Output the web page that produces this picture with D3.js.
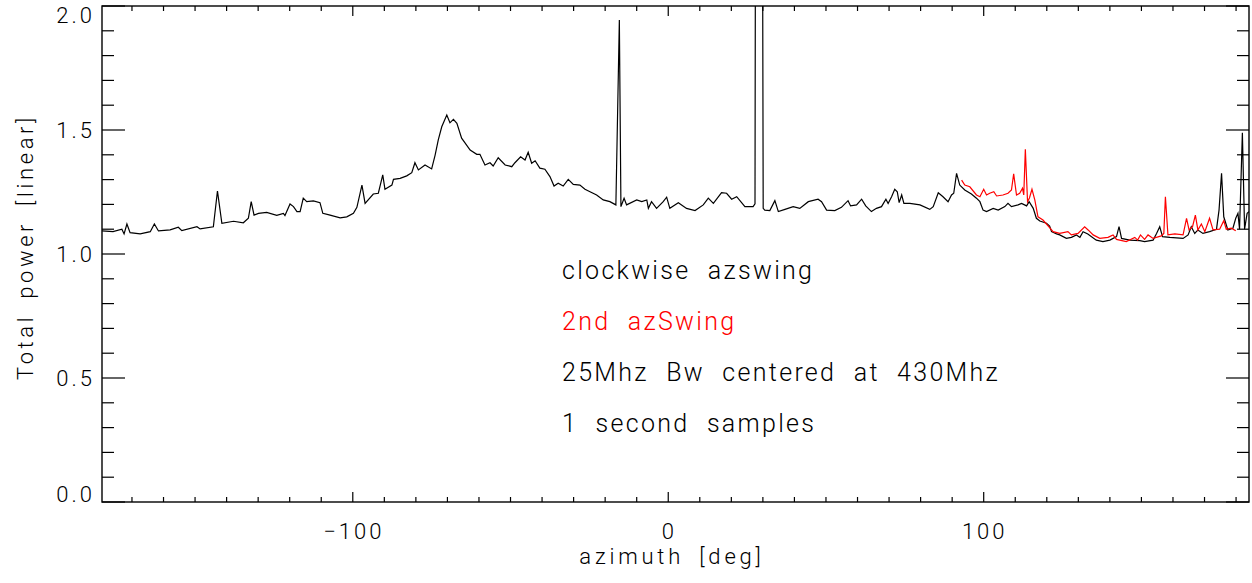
<!DOCTYPE html>
<html>
<head>
<meta charset="utf-8">
<script src="https://cdn.jsdelivr.net/npm/d3@7"></script>
<style>
  body { margin: 0; background: #fff; }
  svg text { font-family: "Roboto", "DejaVu Sans", sans-serif; font-weight: 300; fill: #000; }
</style>
</head>
<body>
<div id="chart"></div>
<script>
// azimuth [deg] and total power [linear] for the clockwise swing
const cwAz = [-179.5,-176.0,-173.2,-172.5,-171.6,-170.6,-167.4,-164.2,-162.9,-161.6,-157.9,-155.3,-154.2,-149.4,-148.4,-144.2,-142.9,-141.5,-137.8,-134.7,
  -133.1,-132.2,-131.3,-129.9,-127.3,-124.1,-122.0,-121.5,-119.9,-118.8,-117.7,-116.7,-115.7,-114.6,-112.5,-110.4,-109.5,-107.2,-104.0,-101.9,
  -99.8,-98.7,-97.1,-96.1,-93.5,-91.9,-90.5,-89.8,-87.6,-87.1,-85.0,-82.9,-81.3,-80.3,-79.2,-77.1,-75.0,-73.9,-72.9,-71.8,
  -70.2,-69.2,-68.1,-67.0,-65.5,-62.8,-60.7,-59.7,-58.1,-56.5,-55.5,-53.9,-51.7,-49.6,-48.6,-46.8,-45.4,-44.4,-43.3,-42.2,
  -40.7,-39.1,-37.5,-36.2,-34.9,-33.3,-31.7,-30.1,-28.0,-26.4,-24.8,-22.7,-20.6,-18.5,-16.6,-15.5,-15.0,-14.0,-13.2,-10.0,
  -8.4,-6.8,-6.3,-5.3,-3.7,-1.6,-0.5,0.5,3.2,5.8,8.5,11.1,12.7,14.3,16.9,18.5,20.1,21.7,24.3,26.9,
  27.5,27.7,29.8,30.1,30.6,32.2,33.8,34.9,37.0,39.6,41.7,44.4,47.5,48.6,50.2,52.8,54.9,57.0,57.8,59.7,
  61.3,62.6,64.4,66.0,67.6,69.0,69.7,70.8,71.8,72.6,73.2,74.0,74.7,76.6,79.8,82.9,84.0,85.6,87.1,88.7,
  89.8,90.5,91.4,92.4,94.0,96.1,97.7,98.8,99.8,100.9,103.0,104.6,106.7,107.7,108.8,110.9,112.0,113.6,114.4,115.7,
  116.7,117.8,119.9,120.9,121.5,123.1,124.1,126.2,127.8,129.4,130.5,131.5,133.0,135.7,137.8,140.0,142.1,142.9,143.7,146.3,
  149.5,151.0,153.7,154.8,155.8,156.7,159.0,163.2,164.8,165.8,166.9,167.9,169.5,171.6,173.8,174.6,175.4,176.1,177.4,179.0,
  179.9,180.6,181.1,182.0,182.7,183.5,184.1];
const cwPower = [1.093,1.090,1.100,1.081,1.121,1.086,1.081,1.090,1.121,1.093,1.097,1.108,1.094,1.110,1.101,1.110,1.254,1.124,1.132,1.126,
  1.144,1.211,1.157,1.164,1.168,1.156,1.164,1.155,1.202,1.191,1.171,1.171,1.225,1.211,1.214,1.207,1.164,1.157,1.146,1.150,
  1.164,1.188,1.278,1.204,1.242,1.245,1.319,1.261,1.278,1.301,1.305,1.315,1.328,1.368,1.339,1.359,1.343,1.399,1.460,1.513,
  1.560,1.529,1.543,1.527,1.467,1.419,1.402,1.402,1.359,1.368,1.355,1.388,1.359,1.352,1.368,1.392,1.379,1.410,1.366,1.376,
  1.346,1.342,1.312,1.274,1.285,1.274,1.301,1.281,1.278,1.261,1.251,1.238,1.218,1.211,1.198,1.944,1.191,1.225,1.198,1.218,
  1.211,1.218,1.184,1.211,1.184,1.211,1.229,1.184,1.207,1.184,1.175,1.198,1.225,1.204,1.247,1.245,1.221,1.231,1.191,1.191,
  1.202,2.800,2.800,1.184,1.177,1.175,1.215,1.171,1.180,1.191,1.184,1.211,1.221,1.211,1.177,1.175,1.188,1.215,1.194,1.198,
  1.221,1.194,1.171,1.184,1.191,1.221,1.204,1.231,1.261,1.251,1.207,1.238,1.204,1.204,1.198,1.180,1.191,1.247,1.231,1.211,
  1.238,1.245,1.325,1.278,1.258,1.242,1.225,1.211,1.177,1.171,1.184,1.177,1.191,1.204,1.191,1.198,1.204,1.194,1.211,1.184,
  1.144,1.133,1.124,1.113,1.090,1.081,1.077,1.063,1.067,1.077,1.067,1.090,1.081,1.056,1.050,1.056,1.070,1.110,1.063,1.056,
  1.054,1.050,1.056,1.083,1.110,1.070,1.067,1.063,1.077,1.110,1.083,1.097,1.083,1.090,1.100,1.177,1.325,1.150,1.097,1.104,
  1.144,1.164,1.100,1.489,1.100,1.164,1.171];

// second swing
const az2 = [93.0,94.0,95.6,97.7,98.8,100.0,100.9,101.9,103.2,104.1,106.1,107.7,108.8,109.5,110.4,111.4,112.3,112.7,113.2,113.9,
  114.5,115.3,116.2,117.2,118.8,120.4,122.0,124.1,126.7,127.8,129.9,132.0,133.1,134.7,136.8,139.4,141.0,142.1,145.2,147.9,
  148.8,149.7,151.0,152.1,153.7,156.3,157.1,157.6,158.4,160.6,163.2,164.3,165.1,166.2,167.1,167.9,169.0,170.1,171.6,172.7,
  174.8,176.1,176.9,178.5,179.9];
const power2 = [1.298,1.278,1.271,1.238,1.231,1.261,1.238,1.245,1.251,1.234,1.238,1.245,1.258,1.323,1.238,1.245,1.265,1.238,1.422,1.211,
  1.226,1.261,1.218,1.150,1.137,1.113,1.090,1.083,1.090,1.077,1.083,1.110,1.097,1.077,1.063,1.067,1.077,1.059,1.050,1.067,
  1.056,1.077,1.059,1.077,1.063,1.073,1.083,1.231,1.077,1.081,1.077,1.144,1.097,1.110,1.157,1.097,1.121,1.090,1.144,1.097,
  1.100,1.134,1.100,1.104,1.094];

const xMajor = [-100, 0, 100];
const yMajor = [0.0, 0.5, 1.0, 1.5, 2.0];
const notes = [
  {text: "clockwise azswing", color: "#000"},
  {text: "2nd azSwing", color: "#ff0000"},
  {text: "25Mhz Bw centered at 430Mhz", color: "#000"},
  {text: "1 second samples", color: "#000"}
];

const W = 1252, H = 583;
const margin = {top: 6, right: 3, bottom: 81, left: 102};
const pw = W - margin.left - margin.right;
const ph = H - margin.top - margin.bottom;

const svg = d3.select("#chart").append("svg")
  .attr("width", W).attr("height", H);

const x = d3.scaleLinear().domain([-179.5, 184.1]).range([margin.left, margin.left + pw]);
const y = d3.scaleLinear().domain([0, 2]).range([margin.top + ph, margin.top]);

svg.append("clipPath").attr("id", "clip")
  .append("rect")
  .attr("x", margin.left).attr("y", margin.top)
  .attr("width", pw).attr("height", ph);

let line = d3.line().x(d => x(d[0])).y(d => y(d[1]));

let plot = svg.append("g").attr("clip-path", "url(#clip)");
plot.append("path")
  .datum(cwAz.map((a, i) => [a, cwPower[i]]))
  .attr("d", line).attr("fill", "none")
  .attr("stroke", "#000").attr("stroke-width", 1.2);
plot.append("path")
  .datum(az2.map((a, i) => [a, power2[i]]))
  .attr("d", line).attr("fill", "none")
  .attr("stroke", "#ff0000").attr("stroke-width", 1.2);

// frame and ticks, IDL style: ticks on all four sides, pointing in
svg.append("rect")
  .attr("x", margin.left).attr("y", margin.top)
  .attr("width", pw).attr("height", ph)
  .attr("fill", "none").attr("stroke", "#000").attr("stroke-width", 1.4);

let xTicks = d3.range(-170, 181, 10);
let xt = svg.append("g").attr("stroke", "#000").attr("stroke-width", 1.2);
xTicks.forEach(t => {
  let len = xMajor.includes(t) ? 10 : 5;
  xt.append("line").attr("x1", x(t)).attr("x2", x(t))
    .attr("y1", y(0)).attr("y2", y(0) - len);
  xt.append("line").attr("x1", x(t)).attr("x2", x(t))
    .attr("y1", y(2)).attr("y2", y(2) + len);
});

let yTicks = d3.range(0, 21).map(d => d / 10);
let yt = svg.append("g").attr("stroke", "#000").attr("stroke-width", 1.2);
yTicks.forEach(t => {
  let len = (Math.round(t * 10) % 5 === 0) ? 23 : 12;
  yt.append("line").attr("y1", y(t)).attr("y2", y(t))
    .attr("x1", x.range()[0]).attr("x2", x.range()[0] + len);
  yt.append("line").attr("y1", y(t)).attr("y2", y(t))
    .attr("x1", x.range()[1]).attr("x2", x.range()[1] - len);
});

// tick labels
svg.append("g").selectAll("text").data(xMajor).join("text")
  .attr("x", d => x(d) + 1).attr("y", 539)
  .attr("text-anchor", "middle")
  .attr("font-size", 22).attr("letter-spacing", 3)
  .text(d => d < 0 ? "\u2212" + Math.abs(d) : d);

svg.append("g").selectAll("text").data(yMajor).join("text")
  .attr("x", 95)
  .attr("y", d => Math.min(Math.max(y(d), margin.top + 9), margin.top + ph - 8) + 8)
  .attr("text-anchor", "end")
  .attr("font-size", 22).attr("letter-spacing", 3)
  .text(d => d.toFixed(1));

// axis titles
svg.append("text")
  .attr("x", 672).attr("y", 564)
  .attr("text-anchor", "middle")
  .attr("font-size", 22).attr("letter-spacing", 3.8).attr("word-spacing", 6)
  .text("azimuth [deg]");

svg.append("text")
  .attr("transform", "translate(33,247) rotate(-90)")
  .attr("text-anchor", "middle")
  .attr("font-size", 22).attr("letter-spacing", 3.6).attr("word-spacing", 6)
  .text("Total power [linear]");

// annotations
svg.append("g").selectAll("text").data(notes).join("text")
  .attr("x", 562).attr("y", (d, i) => 279 + i * 51)
  .attr("font-size", 25).attr("letter-spacing", 2.3).attr("word-spacing", 9)
  .attr("fill", d => d.color)
  .style("fill", d => d.color)
  .text(d => d.text);
</script>
</body>
</html>
